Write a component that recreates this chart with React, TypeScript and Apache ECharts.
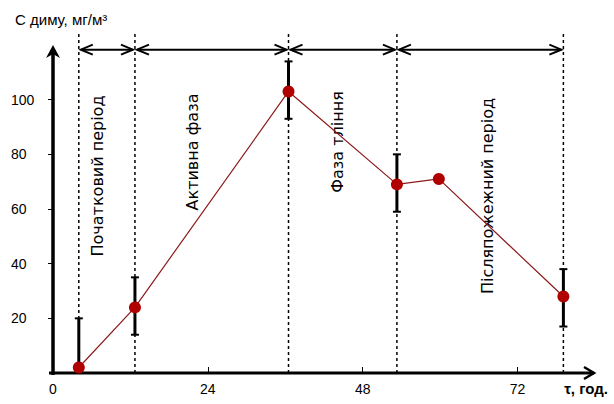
import React, { useEffect, useRef } from "react";
import * as echarts from "echarts";

// time, hours
const timeH = [4, 12.7, 36.5, 53.3, 59.8, 79.1];
// smoke concentration, mg/m3
const smokeC = [2, 24, 103, 69, 71, 28];
// error bar limits (null = no bar)
const errLow: (number | null)[] = [0, 14, 93, 59, null, 17];
const errHigh: (number | null)[] = [20, 35, 114, 80, null, 38];
// phase boundaries (hours)
const phaseBounds = [4, 12.7, 36.5, 53.3, 79.1];
const phaseNames = ["Початковий період", "Активна фаза", "Фаза тління", "Післяпожежний період"];
const xTickValues = [24, 48, 72];
const xLabelValues = [0, 24, 48, 72];
const yTickValues = [20, 40, 60, 80, 100];
const X_MAX = 84;
const Y_MAX = 120;

const FONT = "Liberation Sans, Arial, sans-serif";

export default function App() {
  const ref = useRef<HTMLDivElement>(null);
  useEffect(() => {
    if (!ref.current) return;
    const chart = echarts.init(ref.current, null, { renderer: "svg" });
    const errData = timeH
      .map((x, i) => [x, errLow[i], errHigh[i]])
      .filter((d) => d[1] !== null && d[2] !== null);
    const phaseData = phaseBounds.map((x, i) => [x, i]);
    const labelPos = [
      [97, 176],
      [192, 152],
      [337, 142],
      [487, 196],
    ];
    chart.setOption({
      animation: false,
      backgroundColor: "#fff",
      grid: { left: 53, right: 19, top: 45, bottom: 31 },
      xAxis: {
        type: "value",
        min: 0,
        max: X_MAX,
        interval: 24,
        splitLine: { show: false },
        axisLine: { show: false },
        axisTick: {
          show: true,
          inside: true,
          length: 6,
          customValues: xTickValues,
          lineStyle: { color: "#000", width: 1 },
        },
        axisLabel: {
          customValues: xLabelValues,
          color: "#000",
          fontFamily: FONT,
          fontSize: 14,
          margin: 9,
        },
      },
      yAxis: {
        type: "value",
        min: 0,
        max: Y_MAX,
        interval: 20,
        splitLine: { show: false },
        axisLine: { show: false },
        axisTick: {
          show: true,
          length: 5,
          customValues: yTickValues,
          lineStyle: { color: "#000", width: 1 },
        },
        axisLabel: {
          customValues: yTickValues,
          color: "#000",
          fontFamily: FONT,
          fontSize: 14,
          align: "left",
          margin: 42,
        },
      },
      graphic: [
        {
          type: "text",
          left: 15,
          top: 12,
          style: { text: "С диму, мг/м³", fontFamily: FONT, fontSize: 15, fill: "#000" },
        },
        {
          type: "text",
          x: 586,
          y: 388,
          style: {
            text: "τ, год.",
            fontFamily: FONT,
            fontSize: 15,
            fontWeight: "bold",
            fill: "#000",
            textAlign: "center",
            textVerticalAlign: "middle",
          },
        },
        ...phaseNames.map((name, i) => ({
          type: "text",
          x: labelPos[i][0],
          y: labelPos[i][1],
          rotation: Math.PI / 2,
          style: {
            text: name,
            fontFamily: "DejaVu Sans, sans-serif",
            fontSize: 16,
            fill: "#000",
            textAlign: "center",
            textVerticalAlign: "middle",
          },
        })),
      ],
      series: [
        {
          type: "custom",
          clip: false,
          z: 1,
          data: phaseData,
          renderItem: (params: any, api: any) => {
            const x = api.value(0);
            const idx = params.dataIndex;
            const bot = api.coord([x, 0]);
            const top = api.coord([x, 124]);
            const children: any[] = [
              {
                type: "line",
                shape: { x1: bot[0], y1: bot[1], x2: top[0], y2: top[1] },
                style: { stroke: "#000", lineWidth: 1.5, lineDash: [3, 3] },
              },
            ];
            if (idx < phaseBounds.length - 1) {
              const a = api.coord([x, 118.3]);
              const b = api.coord([phaseBounds[idx + 1], 118.3]);
              const ax = a[0] + 2;
              const bx = b[0] - 2;
              const y = a[1];
              children.push(
                {
                  type: "line",
                  shape: { x1: ax, y1: y, x2: bx, y2: y },
                  style: { stroke: "#000", lineWidth: 2 },
                },
                {
                  type: "polyline",
                  shape: { points: [[ax + 12, y - 5], [ax, y], [ax + 12, y + 5]] },
                  style: { stroke: "#000", lineWidth: 2, fill: "none" },
                },
                {
                  type: "polyline",
                  shape: { points: [[bx - 12, y - 5], [bx, y], [bx - 12, y + 5]] },
                  style: { stroke: "#000", lineWidth: 2, fill: "none" },
                }
              );
            }
            if (idx === 0) {
              // axis lines with arrows, through the chart's scales
              const o = api.coord([0, 0]);
              const xe = api.coord([X_MAX, 0]);
              const ye = api.coord([0, Y_MAX]);
              children.push(
                {
                  type: "line",
                  shape: { x1: o[0] - 4, y1: o[1], x2: xe[0] - 1, y2: xe[1] },
                  style: { stroke: "#000", lineWidth: 3 },
                },
                {
                  type: "polyline",
                  shape: { points: [[xe[0] - 11, xe[1] - 6], [xe[0] - 1, xe[1]], [xe[0] - 11, xe[1] + 6]] },
                  style: { stroke: "#000", lineWidth: 2.5, fill: "none" },
                },
                {
                  type: "line",
                  shape: { x1: o[0], y1: o[1] + 2, x2: ye[0], y2: ye[1] + 6 },
                  style: { stroke: "#000", lineWidth: 3.5 },
                },
                {
                  type: "polygon",
                  shape: {
                    points: [
                      [ye[0], ye[1]],
                      [ye[0] - 7, ye[1] + 13],
                      [ye[0], ye[1] + 9],
                      [ye[0] + 7, ye[1] + 13],
                    ],
                  },
                  style: { fill: "#000" },
                }
              );
            }
            return { type: "group", children };
          },
        },
        {
          type: "custom",
          z: 2,
          clip: false,
          data: errData,
          renderItem: (_params: any, api: any) => {
            const x = api.value(0);
            const lo = api.coord([x, api.value(1)]);
            const hi = api.coord([x, api.value(2)]);
            return {
              type: "group",
              children: [
                {
                  type: "line",
                  shape: { x1: lo[0], y1: lo[1], x2: hi[0], y2: hi[1] },
                  style: { stroke: "#000", lineWidth: 3 },
                },
                {
                  type: "line",
                  shape: { x1: hi[0] - 4, y1: hi[1], x2: hi[0] + 4, y2: hi[1] },
                  style: { stroke: "#000", lineWidth: 2 },
                },
                {
                  type: "line",
                  shape: { x1: lo[0] - 4, y1: lo[1], x2: lo[0] + 4, y2: lo[1] },
                  style: { stroke: "#000", lineWidth: 2 },
                },
              ],
            };
          },
        },
        {
          type: "line",
          z: 6,
          data: timeH.map((x, i) => [x, smokeC[i]]),
          symbol: "circle",
          symbolSize: 12,
          showSymbol: true,
          lineStyle: { color: "#8b1a1a", width: 1.2 },
          itemStyle: { color: "#b00000", borderWidth: 0 },
        },
      ],
    });
    return () => chart.dispose();
  }, []);
  return (
    <div
      ref={ref}
      style={{ position: "fixed", left: 0, top: 0, width: 614, height: 404 }}
    />
  );
}
